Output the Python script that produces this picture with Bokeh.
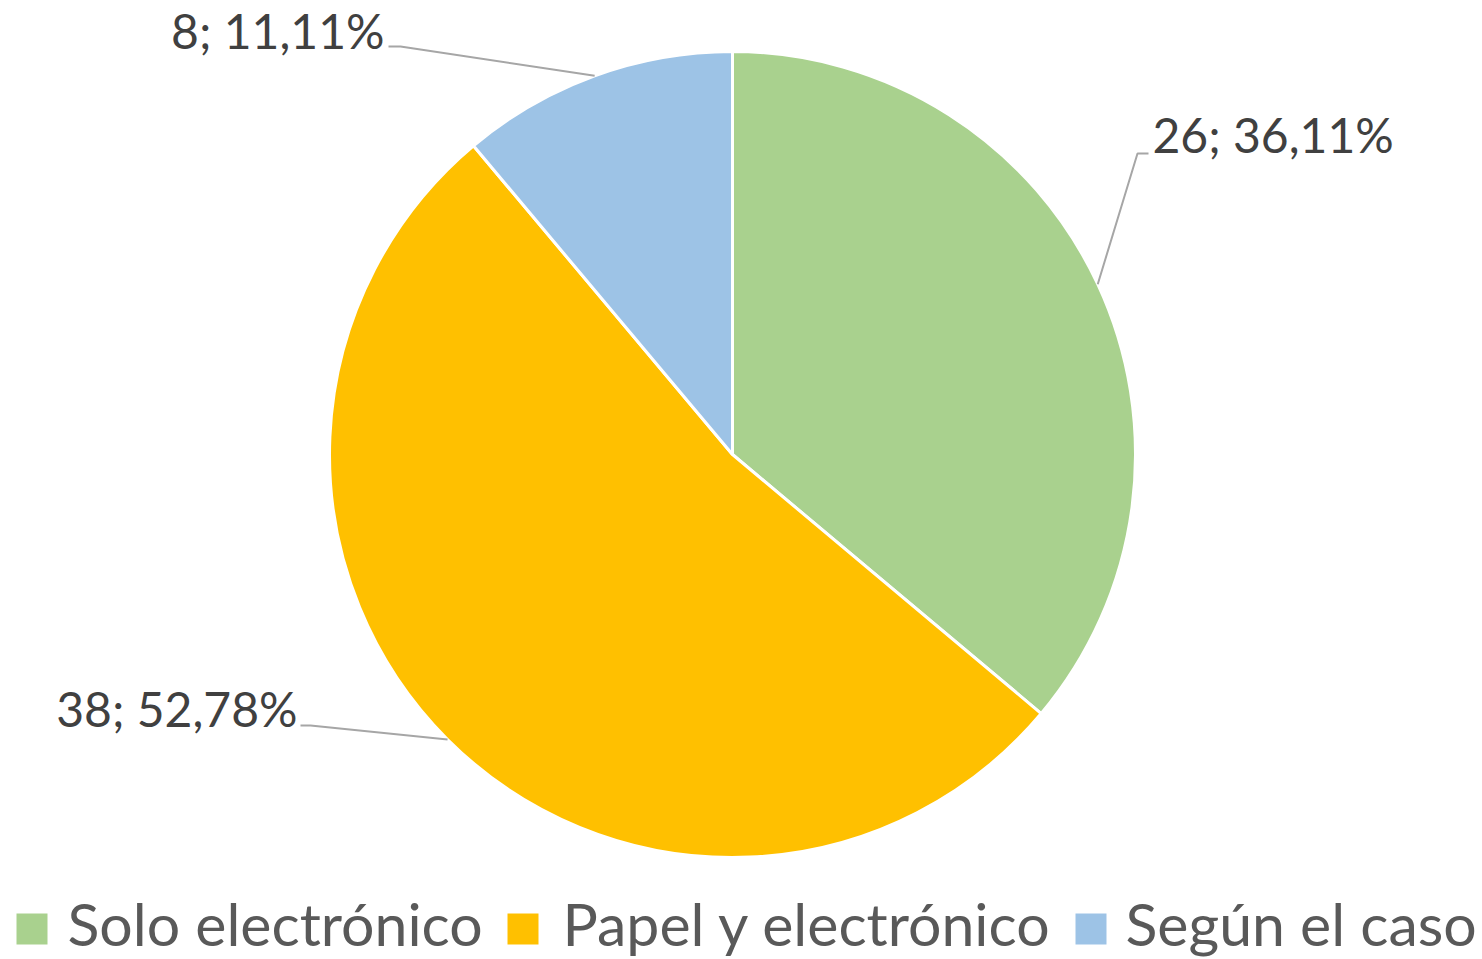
import math
from bokeh.plotting import figure
from bokeh.models import ColumnDataSource, Range1d
from bokeh.core.properties import value
from bokeh.embed import file_html
from bokeh.resources import INLINE

# ---- data ----
categories = ["Solo electrónico", "Papel y electrónico", "Según el caso"]
counts = [26, 38, 8]
colors = ["#A9D18E", "#FFC000", "#9DC3E6"]

# ---- layout (screen px) ----
PAGE_W, PAGE_H = 1482, 959
W, H = 1482, 959
CX, CY, R = 732, 454, 403          # pie centre / radius in screen px
FONT = "Lato"
LABEL_PX = 48
LEGEND_PX = 59
SHIFT = 0.4                         # text baseline correction (em)

# label layout: elbow point, end of horizontal tick, text anchor (baseline), alignment
label_layout = [
    dict(elbow=(1137, 153), end=(1148, 153), text=(1152, 153), align="left"),
    dict(elbow=(310, 725), end=(300, 725), text=(297, 727), align="right"),
    dict(elbow=(400, 46), end=(388, 46), text=(384, 49), align="right"),
]
# legend layout: square left edge, text left edge; shared centre line
legend_sq_x = [16, 507, 1075]
legend_txt_x = [67, 562, 1125]
LEG_Y = 928.5
LEG_BASE = 947
SQ = 31


def Y(sy):
    return PAGE_H - sy


p = figure(width=W, height=H, output_backend="svg", toolbar_location=None,
           x_range=Range1d(0, W), y_range=Range1d(PAGE_H - H, PAGE_H),
           min_border=0, x_axis_location=None, y_axis_location=None)
p.grid.visible = False
p.outline_line_color = None
p.background_fill_color = "white"
p.border_fill_color = "white"

total = sum(counts)
starts, ends, mids, labels = [], [], [], []
cum = 0
for c in counts:
    a0 = math.pi / 2 - 2 * math.pi * cum / total
    a1 = math.pi / 2 - 2 * math.pi * (cum + c) / total
    starts.append(a0)
    ends.append(a1)
    mids.append((a0 + a1) / 2)
    pct = 100.0 * c / total
    labels.append(f"{c}; {pct:.2f}%".replace(".", ","))
    cum += c

src = ColumnDataSource(dict(cat=categories, start=starts, end=ends, color=colors,
                            x=[CX] * len(counts), y=[Y(CY)] * len(counts)))
p.wedge(x="x", y="y", radius=R, start_angle="start", end_angle="end",
        direction="clock", fill_color="color", line_color="white",
        line_width=3, source=src)

# leader lines and labels
for m, lab, lay in zip(mids, labels, label_layout):
    px = CX + R * math.cos(m)
    py = Y(CY) + R * math.sin(m)
    xs = [px, lay["elbow"][0], lay["end"][0]]
    ys = [py, Y(lay["elbow"][1]), Y(lay["end"][1])]
    p.line(xs, ys, line_color="#A6A6A6", line_width=2)
    p.text(x=[lay["text"][0]], y=[Y(lay["text"][1] - SHIFT * LABEL_PX)], text=[lab],
           text_font=value(FONT), text_font_size=f"{LABEL_PX}px",
           text_color="#404040", text_align=lay["align"],
           text_baseline="alphabetic")

# legend (drawn manually)
leg = ColumnDataSource(dict(
    sx=[x + SQ / 2 for x in legend_sq_x], sy=[Y(LEG_Y)] * 3,
    tx=legend_txt_x, ty=[Y(LEG_BASE - SHIFT * LEGEND_PX)] * 3,
    label=categories, color=colors))
p.rect(x="sx", y="sy", width=SQ, height=SQ, fill_color="color",
       line_color=None, source=leg)
p.text(x="tx", y="ty", text="label", text_font=value(FONT),
       text_font_size=f"{LEGEND_PX}px", text_color="#595959",
       text_baseline="alphabetic", source=leg)

open("out.html", "w").write(file_html(p, INLINE))
